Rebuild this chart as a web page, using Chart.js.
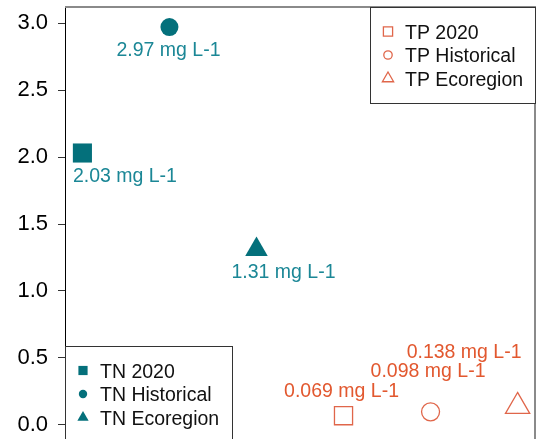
<!DOCTYPE html>
<html>
<head>
<meta charset="utf-8">
<script src="https://cdn.jsdelivr.net/npm/chart.js@4.4.1/dist/chart.umd.min.js"></script>
<style>
  html, body { margin: 0; padding: 0; background: #fff; overflow: hidden; }
  #wrap { width: 537px; height: 439px; position: relative; }
</style>
</head>
<body>
<div id="wrap"><canvas id="nutrientChart"></canvas></div>
<script>
// data
const SERIES = ['TN 2020', 'TN Historical', 'TN Ecoregion', 'TP 2020', 'TP Historical', 'TP Ecoregion'];
const X_POS = [1, 2, 3, 4, 5, 6];
const VALUES = [2.03, 2.97, 1.31, 0.069, 0.098, 0.138];
const UNIT = 'mg L-1';
const Y_TICKS = [0, 0.5, 1, 1.5, 2, 2.5, 3];

// styles
const TEAL = '#04707b';
const TEAL_TEXT = '#1b8796';
const RED = '#e0664a';
const RED_TEXT = '#e2582f';
const FONT = '"Liberation Sans", Arial, sans-serif';
const SHAPES = ['rect', 'circle', 'triangle', 'rect', 'circle', 'triangle'];
const SIZES = [13.5, 9, 13, 12.8, 9, 14];
const LEGEND_SIZES = { rect: 6.5, circle: 4.2, triangle: 6.5 };
// label shift from the point, in px (dx of text centre, dy of baseline)
const LABEL_SHIFT = [[42.5, 29], [-1, 29], [27, 28.5], [-2, -19], [-2.5, -35], [-53.5, -48.5]];

const isTN = i => i < 3;

const datasets = SERIES.map((name, i) => ({
    label: name,
    data: [{ x: X_POS[i], y: VALUES[i] }],
    pointStyle: SHAPES[i],
    pointRadius: SIZES[i],
    backgroundColor: isTN(i) ? TEAL : 'rgba(0,0,0,0)',
    borderColor: isTN(i) ? TEAL : RED,
    borderWidth: isTN(i) ? 0 : 1.3,
    showLine: false
}));

const valueLabels = {
    id: 'valueLabels',
    afterDatasetsDraw(chart) {
        const ctx = chart.ctx;
        ctx.save();
        ctx.font = '19.5px ' + FONT;
        ctx.textAlign = 'center';
        ctx.textBaseline = 'alphabetic';
        chart.data.datasets.forEach((ds, i) => {
            const pt = chart.getDatasetMeta(i).data[0];
            ctx.fillStyle = isTN(i) ? TEAL_TEXT : RED_TEXT;
            ctx.fillText(VALUES[i] + ' ' + UNIT, pt.x + LABEL_SHIFT[i][0], pt.y + LABEL_SHIFT[i][1]);
        });
        ctx.restore();
    }
};

const frameAndLegends = {
    id: 'frameAndLegends',
    afterDraw(chart) {
        const ctx = chart.ctx;
        const a = chart.chartArea;
        ctx.save();
        // grey top / right frame
        ctx.strokeStyle = '#8a8a8a';
        ctx.lineWidth = 2;
        ctx.beginPath();
        ctx.moveTo(a.left, a.top);
        ctx.lineTo(a.right, a.top);
        ctx.lineTo(a.right, a.bottom);
        ctx.stroke();

        const boxes = [
            { items: [0, 1, 2], x: a.left, y: 346, w: 167, h: 120 },
            { items: [3, 4, 5], x: 370, y: a.top, w: a.right - 370, h: 96 }
        ];
        boxes.forEach(b => {
            ctx.fillStyle = '#fff';
            ctx.fillRect(b.x, b.y, b.w, b.h);
            ctx.strokeStyle = '#333';
            ctx.lineWidth = 1;
            ctx.strokeRect(Math.round(b.x) + 0.5, Math.round(b.y) + 0.5, b.w, b.h);
            b.items.forEach((idx, k) => {
                const base = b.y + 31.5 + k * 23.5;
                const ds = chart.data.datasets[idx];
                ctx.fillStyle = ds.backgroundColor;
                ctx.strokeStyle = ds.borderColor;
                ctx.lineWidth = ds.borderWidth;
                Chart.helpers.drawPoint(ctx, {
                    pointStyle: ds.pointStyle,
                    radius: LEGEND_SIZES[ds.pointStyle],
                    borderWidth: ds.borderWidth,
                    rotation: 0
                }, b.x + 18, base - 7);
                ctx.fillStyle = '#111';
                ctx.font = '19.5px ' + FONT;
                ctx.textAlign = 'left';
                ctx.textBaseline = 'alphabetic';
                ctx.fillText(ds.label, b.x + 35, base);
            });
        });
        ctx.restore();
    }
};

new Chart(document.getElementById('nutrientChart'), {
    type: 'scatter',
    data: { datasets },
    options: {
        responsive: true,
        maintainAspectRatio: false,
        animation: false,
        events: [],
        layout: { autoPadding: false, padding: { top: 7, right: 2, left: 0, bottom: 0 } },
        plugins: { legend: { display: false }, tooltip: { enabled: false } },
        scales: {
            x: { type: 'linear', min: 0.8, max: 6.2, display: false },
            y: {
                min: -0.105,
                max: 3.12,
                afterBuildTicks: s => { s.ticks = Y_TICKS.map(v => ({ value: v })); },
                afterFit: s => { s.width = 65; s.paddingTop = 0; s.paddingBottom = 0; },
                border: { display: true, color: '#000', width: 1 },
                grid: { drawOnChartArea: false, drawTicks: true, tickLength: 7, color: '#333' },
                ticks: {
                    color: '#000',
                    padding: 10,
                    font: { family: FONT, size: 22 },
                    callback: v => v.toFixed(1)
                }
            }
        }
    },
    plugins: [valueLabels, frameAndLegends]
});
</script>
</body>
</html>
